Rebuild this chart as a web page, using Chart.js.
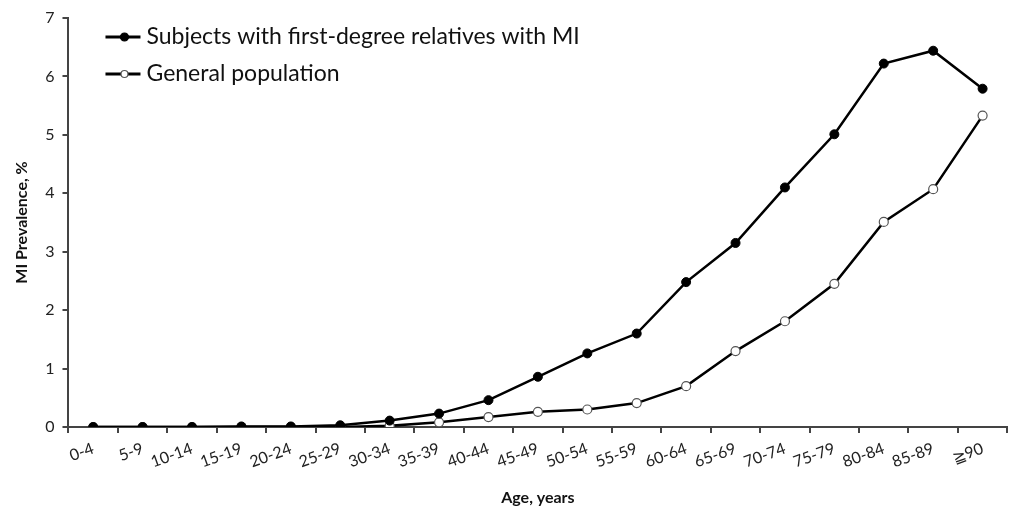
<!DOCTYPE html>
<html>
<head>
<meta charset="utf-8">
<script src="https://cdn.jsdelivr.net/npm/chart.js@4"></script>
<style>
  html, body { margin: 0; padding: 0; background: #fff; }
  #wrap { width: 1013px; height: 508px; position: relative; }
</style>
</head>
<body>
<div id="wrap"><canvas id="c" width="1013" height="508"></canvas></div>
<script>
// Age bands on the x axis
const ageGroups = ['0-4','5-9','10-14','15-19','20-24','25-29','30-34','35-39','40-44','45-49','50-54','55-59','60-64','65-69','70-74','75-79','80-84','85-89','\u2267' + '90'];

// MI prevalence (%) by age band
const relativesMI = [0, 0, 0, 0.01, 0.01, 0.03, 0.11, 0.23, 0.46, 0.86, 1.26, 1.6, 2.48, 3.15, 4.1, 5.01, 6.22, 6.44, 5.79];
const generalPop  = [0, 0, 0, 0, 0, 0, 0.02, 0.08, 0.17, 0.26, 0.3, 0.41, 0.7, 1.3, 1.81, 2.45, 3.51, 4.07, 5.33];

const seriesLabels = ['Subjects with first-degree relatives with MI', 'General population'];
const yTicks = [0, 1, 2, 3, 4, 5, 6, 7];

const FONT = 'Lato, "Open Sans", "Liberation Sans", sans-serif';

// Legend drawn inside the plot area, top-left, with line + marker samples
const insideLegend = {
  id: 'insideLegend',
  afterDraw(chart) {
    const ctx = chart.ctx;
    const x0 = chart.chartArea.left + 37;
    const rows = [37, 74];
    chart.data.datasets.forEach((ds, i) => {
      const y = rows[i];
      ctx.save();
      ctx.strokeStyle = '#000';
      ctx.lineWidth = 3;
      ctx.beginPath();
      ctx.moveTo(x0, y);
      ctx.lineTo(x0 + 35, y);
      ctx.stroke();
      ctx.beginPath();
      ctx.arc(x0 + 19, y, i === 0 ? 4 : 3.5, 0, Math.PI * 2);
      ctx.fillStyle = ds.pointBackgroundColor;
      ctx.fill();
      ctx.lineWidth = 1.2;
      ctx.strokeStyle = ds.pointBorderColor;
      ctx.stroke();
      ctx.fillStyle = '#111';
      ctx.font = '23px ' + FONT;
      ctx.textBaseline = 'middle';
      ctx.fillText(ds.label, x0 + 41, y);
      ctx.restore();
    });
  }
};

new Chart(document.getElementById('c'), {
  type: 'line',
  data: {
    labels: ageGroups,
    datasets: [
      {
        label: seriesLabels[0],
        data: relativesMI,
        borderColor: '#000',
        borderWidth: 2.5,
        pointRadius: 4.5,
        pointBackgroundColor: '#000',
        pointBorderColor: '#000',
        pointBorderWidth: 1,
        tension: 0
      },
      {
        label: seriesLabels[1],
        data: generalPop,
        borderColor: '#000',
        borderWidth: 2.5,
        pointRadius: 4.5,
        pointBackgroundColor: '#fff',
        pointBorderColor: '#555',
        pointBorderWidth: 1.2,
        tension: 0
      }
    ]
  },
  options: {
    responsive: false,
    animation: false,
    layout: { padding: { top: 18, right: 3, left: 12, bottom: 1 } },
    plugins: {
      legend: { display: false },
      tooltip: { enabled: false }
    },
    scales: {
      x: {
        offset: true,
        grid: {
          display: true,
          drawOnChartArea: false,
          drawTicks: true,
          tickLength: 6,
          color: '#444',
          lineWidth: 2,
          offset: true
        },
        border: { display: true, color: '#444', width: 2 },
        ticks: {
          color: '#222',
          font: { family: FONT, size: 16 },
          minRotation: 20,
          maxRotation: 20,
          autoSkip: false,
          padding: 6
        },
        title: {
          display: true,
          text: 'Age, years',
          color: '#111',
          font: { family: FONT, size: 16, weight: 'bold' },
          padding: { top: 10, bottom: 0 }
        }
      },
      y: {
        min: 0,
        max: 7,
        afterBuildTicks(axis) {
          axis.ticks = yTicks.map(v => ({ value: v }));
        },
        grid: {
          display: true,
          drawOnChartArea: false,
          drawTicks: true,
          tickLength: 6,
          color: '#444',
          lineWidth: 2
        },
        border: { display: true, color: '#444', width: 2 },
        ticks: {
          color: '#222',
          font: { family: FONT, size: 16 },
          padding: 8
        },
        title: {
          display: true,
          text: 'MI Prevalence, %',
          color: '#111',
          font: { family: FONT, size: 16, weight: 'bold' },
          padding: { top: 0, bottom: 6 }
        }
      }
    }
  },
  plugins: [insideLegend]
});
</script>
</body>
</html>
